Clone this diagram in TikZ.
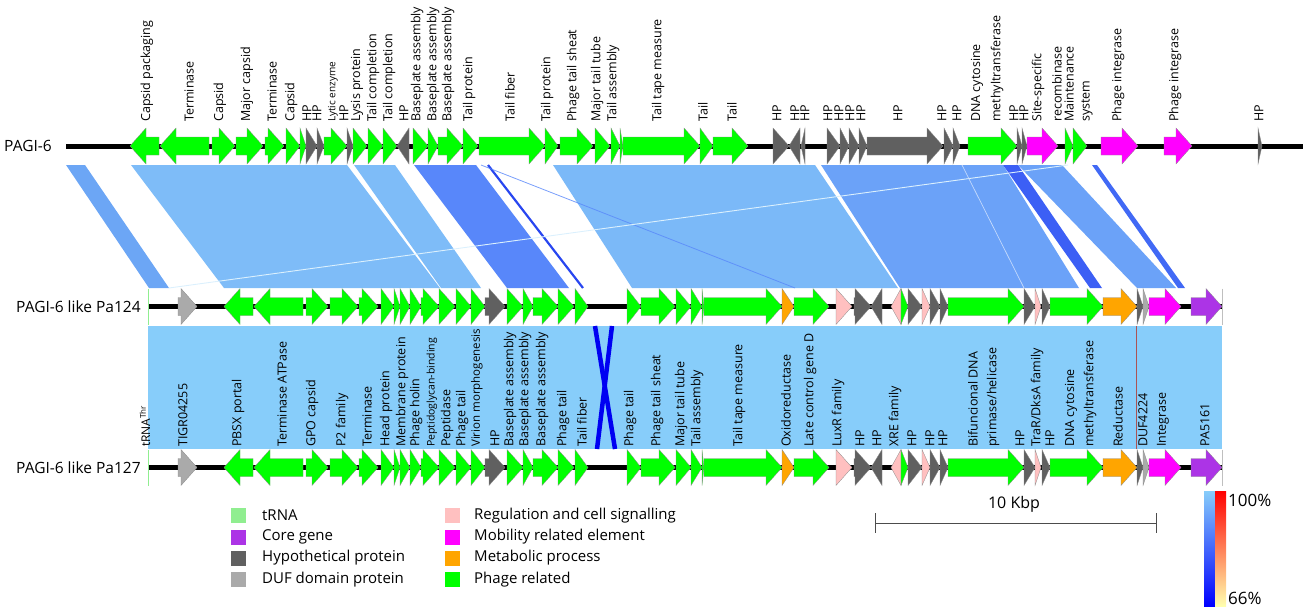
\documentclass[tikz,border=0pt]{standalone}
\usepackage{fontspec}
\setmainfont{Open Sans}
\definecolor{phage}{RGB}{0,255,0}
\definecolor{hyp}{RGB}{96,96,96}
\definecolor{duf}{RGB}{170,170,170}
\definecolor{mob}{RGB}{255,0,255}
\definecolor{meta}{RGB}{255,165,0}
\definecolor{regu}{RGB}{255,192,192}
\definecolor{core}{RGB}{172,52,230}
\definecolor{trna}{RGB}{144,238,144}
\definecolor{bA}{RGB}{108,166,245}
\definecolor{bB}{RGB}{126,188,248}
\definecolor{bC}{RGB}{88,135,250}
\definecolor{bD}{RGB}{40,70,240}
\definecolor{bE}{RGB}{123,185,248}
\definecolor{bF}{RGB}{107,162,248}
\definecolor{bG}{RGB}{60,95,245}
\definecolor{bH}{RGB}{65,105,245}
\definecolor{sky}{RGB}{135,205,250}
\newcommand\gF[4]{\pgfmathsetmacro\gH{max(#1,#2-16)}\filldraw[fill=#4,gout] (#1,#3-9) -- (\gH,#3-9) -- (\gH,#3-18) -- (#2,#3) -- (\gH,#3+18) -- (\gH,#3+9) -- (#1,#3+9) -- cycle;}
\newcommand\gR[4]{\pgfmathsetmacro\gH{min(#2,#1+16)}\filldraw[fill=#4,gout] (#2,#3-9) -- (\gH,#3-9) -- (\gH,#3-18) -- (#1,#3) -- (\gH,#3+18) -- (\gH,#3+9) -- (#2,#3+9) -- cycle;}
\newcommand\gene[5]{\if#1F\gF{#2}{#3}{#4}{#5}\else\gR{#2}{#3}{#4}{#5}\fi}
\newcommand\band[5]{\fill[#5] (#1,165) -- (#2,165) -- (#4,288) -- (#3,288) -- cycle;}
\begin{document}
\begin{tikzpicture}[x=1pt,y=-1pt,
  gout/.style={draw=black!45,line width=0.3pt},
  glab/.style={rotate=90,anchor=west,inner sep=0pt,font=\fontsize{12.5}{13}\selectfont},
  slab/.style={rotate=90,anchor=west,inner sep=0pt,font=\fontsize{10.5}{11}\selectfont},
  tlab/.style={anchor=west,inner sep=0pt,font=\fontsize{15.5}{16}\selectfont},
  leg/.style={anchor=west,inner sep=0pt,font=\fontsize{15}{16}\selectfont},
  chrom/.style={line width=5pt}]
\useasboundingbox (0,0) rectangle (1309,611);
% ---------- bands PAGI-6 / Pa124 ----------
\band{66}{85}{149}{169}{bA}
\band{131}{347}{224}{440}{bB}
\band{354}{395}{441}{481}{bB}
\band{414}{476}{507}{569}{bC}
\band{553}{815}{632}{898}{bE}
\band{821}{1003}{900}{1079}{bF}
\band{1003}{1018}{1090}{1102}{bG}
\band{1018}{1062}{1137}{1176}{bF}
\band{1092}{1097}{1178}{1185}{bH}
\draw[bD,line width=2.2pt] (488,165) -- (583,288);
\draw[bC,opacity=0.8,line width=0.8pt] (481,165) -- (795,288);
\draw[white!70!sky,line width=0.9pt] (169,288) -- (1068,165);
\draw[white!60!bF,line width=0.7pt] (962,165) -- (1024,288);
% ---------- band Pa124 / Pa127 ----------
\fill[sky] (148,326) rectangle (1222,449);
\draw[red!35!gray,line width=0.7pt] (1136,326) -- (1136,449);
\draw[blue!95!black,line width=4.5pt] (595,326) -- (615,449);
\draw[blue!95!black,line width=4.5pt] (612,326) -- (597,449);
% ---------- chromosomes ----------
\draw[chrom] (66,146) -- (1303,146);
\draw[chrom] (148,306.5) -- (1222,306.5);
\draw[chrom] (148,467.5) -- (1222,467.5);
\node[tlab] (t1) at (4,146) {PAGI-6};
\node[tlab] (t2) at (16,306.5) {PAGI-6 like Pa124};
\node[tlab] (t3) at (16,467.5) {PAGI-6 like Pa127};
% ---------- genes PAGI-6 ----------
\foreach \d/\a/\b/\c in {R/130/159/phage,R/160/209/phage,F/212/235/phage,F/236/263/phage,F/265/284/phage,F/286/300/phage,F/300/306/phage,F/306/317/hyp,F/317/324/hyp,F/324/347/phage,F/347/353/hyp,F/353/367/phage,F/368/383/phage,F/383/397/phage,R/397/409/hyp,F/413/428/phage,F/428/438/phage,F/438/463/phage,F/463/478/phage,F/479/545/phage,F/545/558/phage,F/560/593/phage,F/595/610/phage,F/611/620/phage,F/620/623/phage,F/623/700/phage,F/700/713/phage,F/713/748/phage,F/773/789/hyp,R/789/800/hyp,R/801/805/hyp,F/827/840/hyp,F/840/849/hyp,F/849/859/hyp,F/859/867/hyp,F/867/943/hyp,F/944/953/hyp,F/953/960/hyp,F/968/1017/phage,F/1017/1022/hyp,F/1022/1027/hyp,F/1027/1058/mob,F/1065/1073/phage,F/1073/1087/phage,F/1101/1138/mob,F/1164/1192/mob,F/1258/1262/hyp}
  {\gene{\d}{\a}{\b}{146}{\c}}
% ---------- genes Pa124 / Pa127 ----------
\foreach \y in {306.5,467.5}{
  \draw[trna,line width=1.6pt] (148.5,\y-18) -- (148.5,\y+18);
  \draw[black!25,line width=0.6pt] (1222,\y-18) -- (1222,\y+18);
  \foreach \d/\a/\b/\c in {F/178/197/duf,R/224/253/phage,R/254/303/phage,F/306/328/phage,F/330/358/phage,F/359/378/phage,F/381/394/phage,F/394/400/phage,F/400/410/phage,F/410/421/phage,F/421/439/phage,F/439/455/phage,F/456/471/phage,F/471/485/phage,F/485/505/hyp,F/507/523/phage,F/523/533/phage,F/533/558/phage,F/558/574/phage,F/575/588/phage,F/627/641/phage,F/641/675/phage,F/676/691/phage,F/691/702/phage,F/702/704/phage,F/704/782/phage,F/782/794/meta,F/794/829/phage,F/836/852/regu,F/854/871/hyp,R/871/882/hyp,R/891/901/regu,F/901/908/phage,F/908/922/hyp,F/922/930/regu,F/930/940/hyp,F/940/948/hyp,F/948/1024/phage,F/1024/1035/hyp,F/1035/1041/regu,F/1042/1050/hyp,F/1050/1103/phage,F/1103/1137/meta,F/1137/1143/hyp,F/1143/1149/duf,F/1149/1181/mob,F/1191/1222/core}
    {\gene{\d}{\a}{\b}{\y}{\c}}
}
% ---------- labels PAGI-6 ----------
\foreach \x/\t in {147/Capsid packaging,189/Terminase,220/Capsid,247/Major capsid,272/Terminase,291/Capsid,307/HP,317/HP,344/HP,357/Lysis protein,373/Tail completion,389/Tail completion,404/HP,417/Baseplate assembly,433/Baseplate assembly,448/Baseplate assembly,469/Tail protein,510/Tail fiber,547/Tail protein,573/Phage tail sheat,597/Major tail tube,613/Tail assembly,658/Tail tape measure,703/Tail,732/Tail,777/HP,795/HP,805/HP,828/HP,839/HP,850/HP,861/HP,898/HP,942/HP,957/HP,977/DNA cytosine,997/methyltransferase,1014/HP,1024/HP,1038/Site-specific,1057/recombinase,1069/Maintenance,1087/system,1118/Phage integrase,1175/Phage integrase,1259/HP}
  {\node[glab] (a\x) at (\x,122) {\t};}
\node[slab,font=\fontsize{10}{11}\selectfont] (lyt) at (333,122) {Lytic enzyme};
% ---------- labels Pa127 ----------
\node[slab,font=\fontsize{12}{12}\selectfont] (trl) at (145,447) {tRNA\textsuperscript{Thr}};
\foreach \x/\t in {183/TIGR04255,238/PBSX portal,282/Terminase ATPase,312/GPO capsid,342/P2 family,367/Terminase,386/Head protein,402/Membrane protein,416/Phage holin,447/Peptidase,462/Phage tail,495/HP,510/Baseplate assembly,525/Baseplate assembly,542/Baseplate assembly,563/Phage tail,582/Tail fiber,630/Phage tail,657/Phage tail sheat,681/Major tail tube,697/Tail assembly,739/Tail tape measure,786/Oxidoreductase,810/Late control gene D,838/LuxR family,860/HP,877/HP,895/XRE family,912/HP,930/HP,943/HP,973/Bifuncional DNA,1020/HP,1050/HP,1071/DNA cytosine,1090/methyltransferase,1118/Reductase,1143/DUF4224,1163/Integrase,1205/PA5161}
  {\node[glab] (b\x) at (\x,447) {\t};}
\node[glab] (b993) at (993,447) {primase/helicase};
\node[glab] (b1037) at (1037,447) {TraR/DksA family};
\node[slab] (b432) at (432,447) {Peptidoglycan-binding};
\node[slab,font=\fontsize{11.5}{12}\selectfont] (b477) at (477,447) {Virion morphogenesis};
% ---------- legend ----------
\foreach \yy/\c/\t [count=\i] in {515.5/trna/tRNA,537/core/Core gene,558/hyp/Hypothetical protein,579.5/duf/DUF domain protein}
  {\fill[\c] (231,\yy-7.5) rectangle (246,\yy+7.5); \node[leg] (l\i) at (262,\yy) {\t};}
\foreach \yy/\c/\t [count=\i] in {515.5/regu/Regulation and cell signalling,537/mob/Mobility related element,558/meta/Metabolic process,579.5/phage/Phage related}
  {\fill[\c] (445,\yy-7.5) rectangle (460,\yy+7.5); \node[leg] (r\i) at (474,\yy) {\t};}
% ---------- scale bar ----------
\coordinate (s1) at (875,523);
\coordinate (s2) at (1156,523);
\draw[black!70,line width=0.8pt] (s1) -- (s2);
\draw[black!70,line width=0.8pt] (875,513) -- (875,533);
\draw[black!70,line width=0.8pt] (1156,513) -- (1156,533);
\node[inner sep=0pt,font=\fontsize{16}{17}\selectfont] (kbp) at (1014,504) {10 Kbp};
% ---------- colour key ----------
\shade[top color=sky,bottom color=blue] (1204,491) rectangle (1215,606);
\shade[top color=red,middle color={rgb,255:red,255;green,140;blue,110},bottom color={rgb,255:red,255;green,255;blue,175}] (1215,491) rectangle (1226,606);
\node[anchor=west,inner sep=0pt,font=\fontsize{17}{18}\selectfont] (p100) at (1228,500) {100\%};
\node[anchor=west,inner sep=0pt,font=\fontsize{17}{18}\selectfont] (p66) at (1228,598) {66\%};
\end{tikzpicture}
\end{document}
